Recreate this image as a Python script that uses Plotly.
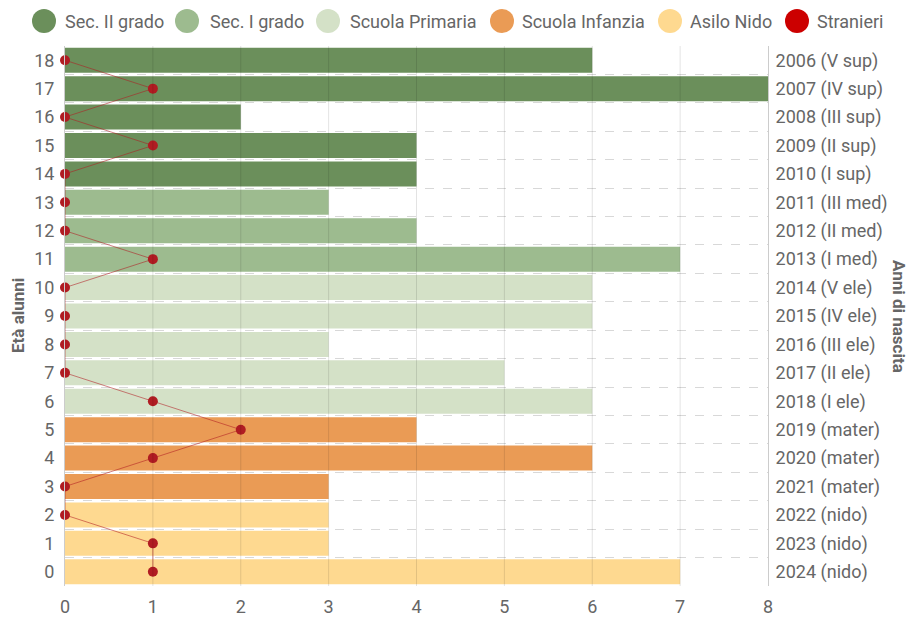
import plotly.graph_objects as go

ages = list(range(0, 19))
alunni = [7, 3, 3, 3, 6, 4, 6, 5, 3, 6, 6, 7, 4, 3, 4, 4, 2, 8, 6]
stranieri = [1, 1, 0, 0, 1, 2, 1, 0, 0, 0, 0, 1, 0, 0, 0, 1, 0, 1, 0]
anni = ["2024 (nido)", "2023 (nido)", "2022 (nido)", "2021 (mater)", "2020 (mater)",
        "2019 (mater)", "2018 (I ele)", "2017 (II ele)", "2016 (III ele)", "2015 (IV ele)",
        "2014 (V ele)", "2013 (I med)", "2012 (II med)", "2011 (III med)", "2010 (I sup)",
        "2009 (II sup)", "2008 (III sup)", "2007 (IV sup)", "2006 (V sup)"]
groups = [
    ("Sec. II grado", "#6b8f5b", [14, 15, 16, 17, 18]),
    ("Sec. I grado", "#9dbb8f", [11, 12, 13]),
    ("Scuola Primaria", "#d4e1c7", [6, 7, 8, 9, 10]),
    ("Scuola Infanzia", "#ea9b55", [3, 4, 5]),
    ("Asilo Nido", "#fed990", [0, 1, 2]),
]
legend_names = [g[0] for g in groups] + ["Stranieri"]
legend_colors = [g[1] for g in groups] + ["#cc0000"]
xticks = list(range(0, 9))

FONT = "Roboto"
GRAY = "#666666"
W, H = 911, 625
ML, MR, MT, MB = 65, 143, 46, 39
PW, PH = W - ML - MR, H - MT - MB


def px_x(px):
    return (px - ML) / PW


def px_y(py):
    return (H - MB - py) / PH


fig = go.Figure()
for name, color, idx in groups:
    fig.add_trace(go.Bar(
        x=[alunni[i] for i in idx], y=[ages[i] for i in idx], orientation="h",
        marker=dict(color=color, line=dict(width=0)),
        name=name, showlegend=False, hoverinfo="x+y"))

fig.add_trace(go.Scatter(
    x=stranieri, y=ages, mode="lines+markers", name="Stranieri", showlegend=False,
    cliponaxis=False,
    line=dict(color="rgba(176,28,34,0.55)", width=1),
    marker=dict(color="#b01c22", size=10)))

# secondary y-axis for birth years
fig.add_trace(go.Scatter(x=[None], y=[None], yaxis="y2", showlegend=False, hoverinfo="skip"))

shapes = []
# vertical grid lines drawn over the bars
for v in xticks[1:-1]:
    shapes.append(dict(type="line", xref="x", yref="paper", x0=v, x1=v, y0=0, y1=1,
                       line=dict(color="rgba(0,0,0,0.11)", width=1), layer="above"))

# manual legend (large circles)
circle_cx = [44, 187, 328, 502, 670, 797]
text_x = [63, 208, 348, 520, 688, 815]
cy = 21
r = 12
annotations = []
for name, color, cx, tx in zip(legend_names, legend_colors, circle_cx, text_x):
    shapes.append(dict(type="circle", xref="paper", yref="paper",
                       x0=px_x(cx - r), x1=px_x(cx + r), y0=px_y(cy + r), y1=px_y(cy - r),
                       fillcolor=color, line=dict(width=0), layer="above"))
    annotations.append(dict(text=name, x=px_x(tx), y=px_y(cy), xref="paper", yref="paper",
                            xanchor="left", yanchor="middle", showarrow=False,
                            font=dict(family=FONT, size=18, color=GRAY)))

annotations.append(dict(text="<b>Età alunni</b>", textangle=-90, x=px_x(18), y=0.5,
                        xref="paper", yref="paper", xanchor="center", yanchor="middle",
                        showarrow=False, font=dict(family=FONT, size=17, color=GRAY)))
annotations.append(dict(text="<b>Anni di nascita</b>", textangle=90, x=px_x(899), y=0.5,
                        xref="paper", yref="paper", xanchor="center", yanchor="middle",
                        showarrow=False, font=dict(family=FONT, size=17, color=GRAY)))

fig.update_layout(
    width=W, height=H,
    margin=dict(l=ML, r=MR, t=MT, b=MB, autoexpand=False),
    paper_bgcolor="white", plot_bgcolor="white",
    font=dict(family=FONT, size=18, color=GRAY),
    bargap=0.12,
    showlegend=False,
    xaxis=dict(range=[0, 8], tickvals=xticks, showgrid=False,
               zeroline=False, showline=False, ticks="",
               ticklabelstandoff=8, tickfont=dict(size=18, color=GRAY)),
    yaxis=dict(range=[-0.5, 18.5], tickvals=ages, ticktext=[str(a) for a in ages],
               showgrid=False, zeroline=False, showline=True, linecolor="#cccccc",
               ticklabelstandoff=6, tickfont=dict(size=18, color=GRAY),
               minor=dict(tick0=0.5, dtick=1, showgrid=True, gridcolor="#d8d8d8",
                          griddash="dash", gridwidth=1)),
    yaxis2=dict(range=[-0.5, 18.5], overlaying="y", side="right", tickvals=ages,
                ticktext=anni, showgrid=False, zeroline=False, showline=True,
                linecolor="#cccccc", ticklabelstandoff=3, tickfont=dict(size=18, color=GRAY)),
    shapes=shapes,
    annotations=annotations,
)

fig.write_html("out.html")
